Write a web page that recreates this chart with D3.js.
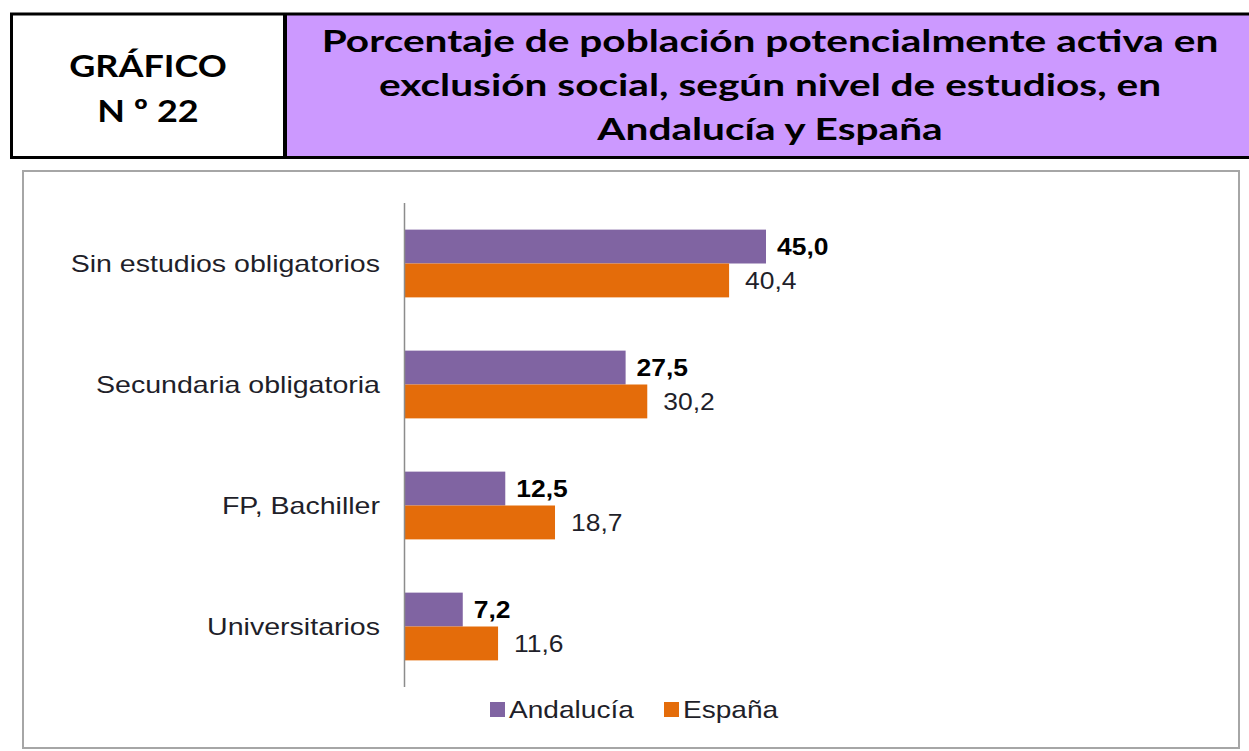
<!DOCTYPE html>
<html>
<head>
<meta charset="utf-8">
<script src="https://cdn.jsdelivr.net/npm/d3@7"></script>
<style>
  body { margin: 0; background: #fff; }
  svg { display: block; }
</style>
</head>
<body>
<div id="chart-area"></div>
<script>
// data
var categories = ['Sin estudios obligatorios', 'Secundaria obligatoria', 'FP, Bachiller', 'Universitarios'];
var series = ['Andalucía', 'España'];
var andalucia = [45.0, 27.5, 12.5, 7.2];
var espana = [40.4, 30.2, 18.7, 11.6];
var titleLines = ['Porcentaje de población potencialmente activa en', 'exclusión social, según nivel de estudios, en', 'Andalucía y España'];
var boxLines = ['GRÁFICO', 'N º 22'];

var W = 1249, H = 751;
var colors = { 'Andalucía': '#8064a2', 'España': '#e46c0a' };
var fmt = v => d3.format('.1f')(v).replace('.', ',');
var sx = 1.15; // the picture text is a bit stretched

var svg = d3.select('#chart-area').append('svg')
	.attr('width', W)
	.attr('height', H);

// header
var header = svg.append('g');
header.append('rect').attr('x', 11).attr('y', 14).attr('width', 274).attr('height', 143)
	.attr('fill', '#fff');
header.append('rect').attr('x', 286).attr('y', 14).attr('width', W - 286).attr('height', 143)
	.attr('fill', '#cc99ff');
header.append('path')
	.attr('d', `M${W},14 H11.5 V157.5 H${W} M285,14 V157`)
	.attr('fill', 'none').attr('stroke', '#000').attr('stroke-width', 3);
header.append('line').attr('x1', 285).attr('x2', 285).attr('y1', 14).attr('y2', 157)
	.attr('stroke', '#000').attr('stroke-width', 4);

boxLines.forEach((t, i) => {
	header.append('text')
		.attr('transform', `translate(148, ${77 + i * 45}) scale(1.16,1)`)
		.attr('text-anchor', 'middle')
		.attr('font-family', 'Lato, "Open Sans", sans-serif')
		.attr('font-weight', 'bold')
		.attr('font-size', '31px')
		.text(t);
});
titleLines.forEach((t, i) => {
	header.append('text')
		.attr('transform', `translate(770, ${52 + i * 44}) scale(1.31,1)`)
		.attr('text-anchor', 'middle')
		.attr('font-family', 'Lato, "Open Sans", sans-serif')
		.attr('font-weight', 'bold')
		.attr('font-size', '31px')
		.text(t);
});

// chart frame
svg.append('rect')
	.attr('x', 23).attr('y', 171).attr('width', 1216).attr('height', 577)
	.attr('fill', '#fff').attr('stroke', '#a6a6a6').attr('stroke-width', 2);

var x = d3.scaleLinear().domain([0, 45]).range([405, 766]);
var y = d3.scaleBand().domain(categories).range([203, 687]).paddingInner(0.44).paddingOuter(0.22);
var ySub = d3.scaleBand().domain(series).range([0, y.bandwidth()]);

var rows = categories.map((c, i) => ({ cat: c, values: [
	{ s: 'Andalucía', v: andalucia[i] },
	{ s: 'España', v: espana[i] }
]}));

var g = svg.append('g');

var groups = g.selectAll('.cat').data(rows).enter().append('g')
	.attr('class', 'cat')
	.attr('transform', d => `translate(0, ${y(d.cat)})`);

groups.selectAll('rect').data(d => d.values).enter().append('rect')
	.attr('x', x(0))
	.attr('y', d => ySub(d.s))
	.attr('width', d => x(d.v) - x(0))
	.attr('height', ySub.bandwidth())
	.attr('fill', d => colors[d.s]);

groups.selectAll('text.val').data(d => d.values).enter().append('text')
	.attr('class', 'val')
	.attr('transform', d => {
		var bold = d.s == 'Andalucía';
		return `translate(${x(d.v) + (bold ? 11 : 16)}, ${ySub(d.s) + ySub.bandwidth() / 2 + (bold ? 8 : 9)}) scale(${sx},1)`;
	})
	.attr('font-family', 'Arial, "Liberation Sans", sans-serif')
	.attr('font-size', '23px')
	.attr('font-weight', d => d.s == 'Andalucía' ? 'bold' : 'normal')
	.attr('fill', d => d.s == 'Andalucía' ? '#000' : '#1f1f2a')
	.text(d => fmt(d.v));

// category labels
g.selectAll('.cat-label').data(categories).enter().append('text')
	.attr('class', 'cat-label')
	.attr('transform', d => `translate(380, ${y(d) + y.bandwidth() / 2 + 8}) scale(1.19,1)`)
	.attr('text-anchor', 'end')
	.attr('font-family', 'Arial, "Liberation Sans", sans-serif')
	.attr('font-size', '24px')
	.attr('fill', '#1f1f2a')
	.text(d => d);

// axis line
g.append('line')
	.attr('x1', 404.5).attr('x2', 404.5)
	.attr('y1', 203).attr('y2', 687)
	.attr('stroke', '#8c8c8c').attr('stroke-width', 1.5);

// legend
var legendPos = [490, 664];
series.forEach((s, i) => {
	var lg = svg.append('g').attr('transform', `translate(${legendPos[i]}, 702)`);
	lg.append('rect').attr('width', 15).attr('height', 15).attr('fill', colors[s]);
	lg.append('text')
		.attr('transform', `translate(19, 16) scale(1.17,1)`)
		.attr('font-family', 'Arial, "Liberation Sans", sans-serif')
		.attr('font-size', '24px')
		.attr('fill', '#1f1f2a')
		.text(s);
});
</script>
</body>
</html>
